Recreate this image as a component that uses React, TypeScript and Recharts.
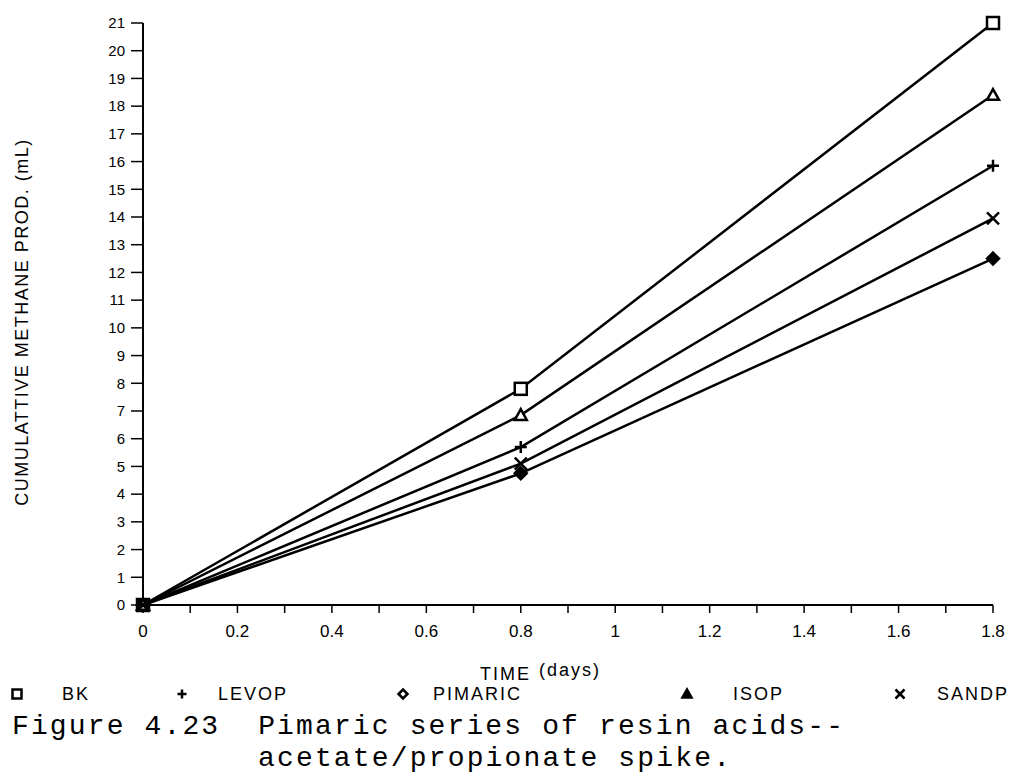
import React from "react";
import {
  LineChart,
  Line,
  XAxis,
  YAxis,
  Legend,
} from "recharts";

// sampling times (days)
const times = [0, 0.8, 1.8];

// cumulative methane production (mL)
const bk = [0, 7.8, 21.0];
const levop = [0, 5.7, 15.85];
const pimaric = [0, 4.75, 12.5];
const isop = [0, 6.85, 18.4];
const sandp = [0, 5.1, 13.95];

const yTicks = [0, 1, 2, 3, 4, 5, 6, 7, 8, 9, 10, 11, 12, 13, 14, 15, 16, 17, 18, 19, 20, 21];
const xTicks = [0, 0.1, 0.2, 0.3, 0.4, 0.5, 0.6, 0.7, 0.8, 0.9, 1, 1.1, 1.2, 1.3, 1.4, 1.5, 1.6, 1.7, 1.8];
const xTickLabels = ["0", "0.2", "0.4", "0.6", "0.8", "1", "1.2", "1.4", "1.6", "1.8"];

const xLabel = "TIME";
const xLabelUnit = "(days)";
const yLabel = "CUMULATTIVE METHANE PROD. (mL)";
const captionLine1 = "Figure 4.23  Pimaric series of resin acids--";
const captionLine2 = "acetate/propionate spike.";

type Shape = "square" | "plus" | "diamond" | "triangle" | "cross";

const series: { key: string; name: string; values: number[]; shape: Shape }[] = [
  { key: "bk", name: "BK", values: bk, shape: "square" },
  { key: "levop", name: "LEVOP", values: levop, shape: "plus" },
  { key: "pimaric", name: "PIMARIC", values: pimaric, shape: "diamond" },
  { key: "isop", name: "ISOP", values: isop, shape: "triangle" },
  { key: "sandp", name: "SANDP", values: sandp, shape: "cross" },
];

const data = times.map((t, i) => {
  const row: Record<string, number> = { time: t };
  series.forEach((s) => {
    row[s.key] = s.values[i];
  });
  return row;
});

// legend layout (marker x, text x)
const legendPos = [
  { m: 17, t: 62 },
  { m: 182, t: 218 },
  { m: 403, t: 433 },
  { m: 687, t: 733 },
  { m: 900, t: 937 },
];

const sans = "'Liberation Sans', Arial, sans-serif";
const mono = "'Liberation Mono', 'Courier New', monospace";

function marker(shape: Shape, cx: number, cy: number, r: number, key?: string, legend = false) {
  switch (shape) {
    case "square":
      return (
        <rect key={key} x={cx - r} y={cy - r} width={r * 2} height={r * 2} fill="#fff" stroke="#000" strokeWidth={2.5} />
      );
    case "plus":
      return (
        <g key={key} stroke="#000" strokeWidth={2.5}>
          <line x1={cx - r} y1={cy} x2={cx + r} y2={cy} />
          <line x1={cx} y1={cy - r} x2={cx} y2={cy + r} />
        </g>
      );
    case "diamond":
      return (
        <polygon
          key={key}
          points={`${cx},${cy - r} ${cx + r},${cy} ${cx},${cy + r} ${cx - r},${cy}`}
          fill={legend ? "#fff" : "#000"}
          stroke="#000"
          strokeWidth={2.5}
        />
      );
    case "triangle":
      return (
        <polygon
          key={key}
          points={`${cx},${cy - r} ${cx + r},${cy + r * 0.8} ${cx - r},${cy + r * 0.8}`}
          fill={legend ? "#000" : "#fff"}
          stroke="#000"
          strokeWidth={2.5}
        />
      );
    default:
      return (
        <g key={key} stroke="#000" strokeWidth={2.5}>
          <line x1={cx - r} y1={cy - r} x2={cx + r} y2={cy + r} />
          <line x1={cx - r} y1={cy + r} x2={cx + r} y2={cy - r} />
        </g>
      );
  }
}

const makeDot = (shape: Shape) => (props: any) =>
  marker(shape, props.cx, props.cy, 6, `${shape}-${props.index}`);

const renderLegend = () => (
  <svg width={1014} height={30} style={{ display: "block" }}>
    {series.map((s, i) => (
      <g key={s.key}>
        {marker(s.shape, legendPos[i].m, 14, 4.5, undefined, true)}
        <text x={legendPos[i].t} y={20} fontFamily={sans} fontSize={18} letterSpacing={2} fill="#000">
          {s.name}
        </text>
      </g>
    ))}
  </svg>
);

export default function App() {
  return (
    <div style={{ position: "absolute", left: 0, top: 0, width: 1014, height: 776, background: "#fff" }}>
      <LineChart
        width={1014}
        height={776}
        data={data}
        margin={{ top: 23, right: 21, bottom: 111, left: 83 }}
      >
        <XAxis
          dataKey="time"
          type="number"
          domain={[0, 1.8]}
          ticks={xTicks}
          interval={0}
          tickFormatter={(v: number) => (xTickLabels.includes(String(v)) ? String(v) : "")}
          height={30}
          tickSize={8}
          tickMargin={12}
          axisLine={{ stroke: "#000", strokeWidth: 2 }}
          tickLine={{ stroke: "#000", strokeWidth: 1.5 }}
          tick={{ fill: "#000", fontSize: 17, fontFamily: sans }}
        />
        <XAxis
          xAxisId="top"
          orientation="top"
          type="number"
          domain={[0, 1.8]}
          height={0}
          tick={false}
          tickLine={false}
          axisLine={{ stroke: "#000", strokeWidth: 1.5 }}
        />
        <YAxis
          type="number"
          domain={[0, 21]}
          ticks={yTicks}
          interval={0}
          width={60}
          tickSize={12}
          tickMargin={6}
          axisLine={{ stroke: "#000", strokeWidth: 2 }}
          tickLine={{ stroke: "#000", strokeWidth: 1.5 }}
          tick={{ fill: "#000", fontSize: 15, fontFamily: sans }}
        />
        <YAxis
          yAxisId="right"
          orientation="right"
          type="number"
          domain={[0, 21]}
          width={0}
          tick={false}
          tickLine={false}
          axisLine={{ stroke: "#000", strokeWidth: 2 }}
        />
        <Legend
          content={renderLegend}
          wrapperStyle={{ position: "absolute", left: 0, top: 680, width: 1014, height: 30 }}
        />
        {series.map((s) => (
          <Line
            key={s.key}
            dataKey={s.key}
            name={s.name}
            type="linear"
            stroke="#000"
            strokeWidth={2.5}
            dot={makeDot(s.shape)}
            isAnimationActive={false}
          />
        ))}
      </LineChart>
      <svg
        width={1014}
        height={776}
        style={{ position: "absolute", left: 0, top: 0, pointerEvents: "none" }}
      >
        <text
          x={28}
          y={322}
          transform="rotate(-90, 28, 322)"
          textAnchor="middle"
          fontFamily={sans}
          fontSize={18}
          letterSpacing={1.5}
          fill="#000"
        >
          {yLabel}
        </text>
        <text x={480} y={680} fontFamily={sans} fontSize={18} letterSpacing={2} fill="#000">
          {xLabel}
          <tspan dx={8} dy={-4}>{xLabelUnit}</tspan>
        </text>
        <text
          x={12}
          y={734}
          fontFamily={mono}
          fontSize={28}
          textLength={831}
          lengthAdjust="spacing"
          fill="#000"
          xmlSpace="preserve"
          style={{ whiteSpace: "pre" }}
        >
          {captionLine1}
        </text>
        <text
          x={258}
          y={766}
          fontFamily={mono}
          fontSize={28}
          textLength={472}
          lengthAdjust="spacing"
          fill="#000"
        >
          {captionLine2}
        </text>
      </svg>
    </div>
  );
}
